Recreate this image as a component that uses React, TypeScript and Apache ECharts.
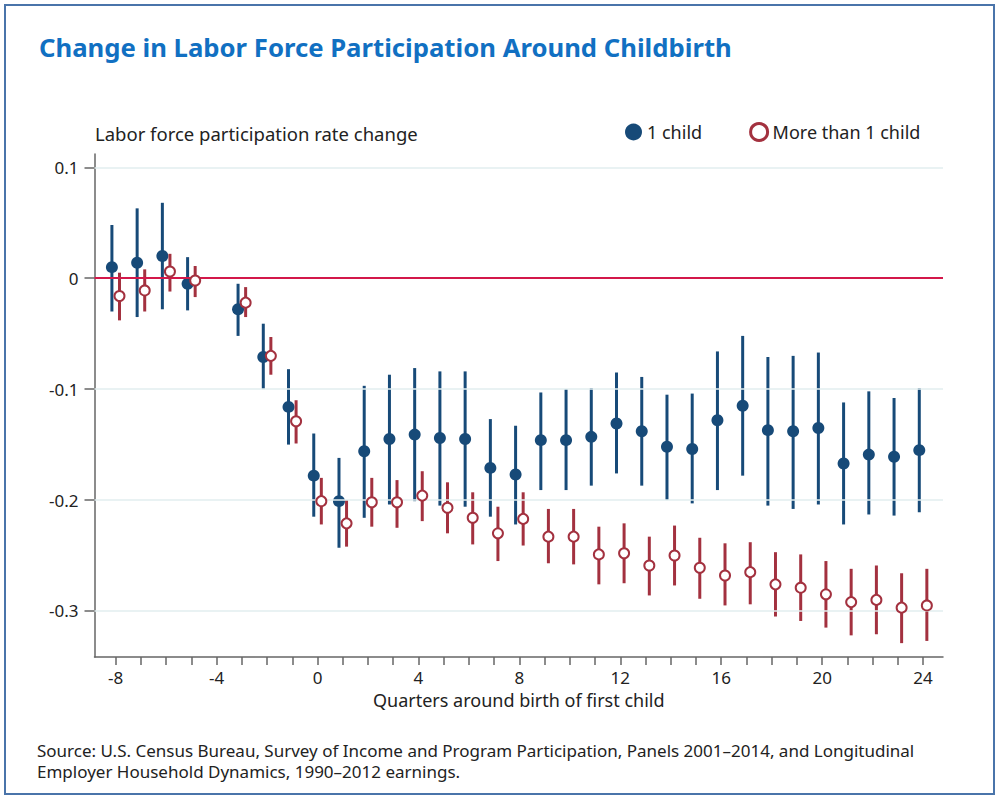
import React, { useEffect, useRef } from "react";
import * as echarts from "echarts";

const quarters = [-8, -7, -6, -5, -3, -2, -1, 0, 1, 2, 3, 4, 5, 6, 7, 8, 9, 10, 11, 12, 13, 14, 15, 16, 17, 18, 19, 20, 21, 22, 23, 24];

const oneChild = [0.010, 0.014, 0.020, -0.005, -0.028, -0.071, -0.116, -0.178, -0.201, -0.156, -0.145, -0.141, -0.144, -0.145, -0.171, -0.177, -0.146, -0.146, -0.143, -0.131, -0.138, -0.152, -0.154, -0.128, -0.115, -0.137, -0.138, -0.135, -0.167, -0.159, -0.161, -0.155];
const oneChildLow = [-0.030, -0.035, -0.028, -0.029, -0.052, -0.100, -0.150, -0.215, -0.243, -0.216, -0.204, -0.201, -0.205, -0.206, -0.215, -0.222, -0.191, -0.191, -0.187, -0.176, -0.187, -0.200, -0.203, -0.191, -0.178, -0.205, -0.208, -0.204, -0.222, -0.213, -0.214, -0.211];
const oneChildHigh = [0.048, 0.063, 0.068, 0.019, -0.005, -0.041, -0.082, -0.140, -0.162, -0.097, -0.087, -0.081, -0.084, -0.084, -0.127, -0.133, -0.103, -0.100, -0.099, -0.085, -0.089, -0.105, -0.104, -0.066, -0.052, -0.071, -0.070, -0.067, -0.112, -0.102, -0.108, -0.099];

const moreChild = [-0.016, -0.011, 0.006, -0.002, -0.022, -0.070, -0.129, -0.201, -0.221, -0.202, -0.202, -0.196, -0.207, -0.216, -0.230, -0.217, -0.233, -0.233, -0.249, -0.248, -0.259, -0.250, -0.261, -0.268, -0.265, -0.276, -0.279, -0.285, -0.292, -0.290, -0.297, -0.295];
const moreChildLow = [-0.038, -0.030, -0.012, -0.017, -0.035, -0.087, -0.149, -0.222, -0.242, -0.224, -0.225, -0.219, -0.230, -0.240, -0.255, -0.241, -0.257, -0.258, -0.276, -0.275, -0.286, -0.277, -0.289, -0.295, -0.294, -0.305, -0.309, -0.315, -0.322, -0.321, -0.329, -0.327];
const moreChildHigh = [0.005, 0.008, 0.022, 0.011, -0.008, -0.053, -0.110, -0.180, -0.200, -0.180, -0.182, -0.174, -0.184, -0.193, -0.206, -0.193, -0.208, -0.208, -0.224, -0.221, -0.233, -0.223, -0.234, -0.239, -0.238, -0.247, -0.249, -0.255, -0.262, -0.259, -0.266, -0.262];

const xTicks = [-8, -7, -6, -5, -4, -3, -2, -1, 0, 1, 2, 3, 4, 5, 6, 7, 8, 9, 10, 11, 12, 13, 14, 15, 16, 17, 18, 19, 20, 21, 22, 23, 24];
const xLabels = [-8, -4, 0, 4, 8, 12, 16, 20, 24];
const yTicks = [-0.3, -0.2, -0.1, 0, 0.1];
const gridValues = [-0.3, -0.2, -0.1, 0.1];

const seriesNames = ["1 child", "More than 1 child"];

const BLUE = "#174a78";
const RED = "#a3313f";
const FONT = "Noto Sans";
const OFFSET = 0.15;

export default function App() {
  const ref = useRef<HTMLDivElement>(null);

  useEffect(() => {
    if (!ref.current) return;
    const chart = echarts.init(ref.current, null, { renderer: "svg" });

    const barItem = (color: string) => (params: any, api: any) => {
      const x = api.value(0);
      const p1 = api.coord([x, api.value(1)]);
      const p2 = api.coord([x, api.value(2)]);
      return {
        type: "line",
        shape: { x1: p1[0], y1: p1[1], x2: p2[0], y2: p2[1] },
        style: { stroke: color, lineWidth: 3 },
      };
    };

    const option: any = {
      animation: false,
      backgroundColor: "#ffffff",
      textStyle: { fontFamily: FONT },
      title: {
        text: "Change in Labor Force Participation Around Childbirth",
        left: 34,
        top: 29,
        textStyle: { fontFamily: FONT, fontWeight: "bold", fontSize: 25.7, color: "#1170c2" },
      },
      legend: {
        left: 620,
        top: 117,
        itemWidth: 17,
        itemHeight: 17,
        itemGap: 47,
        icon: "circle",
        textStyle: { fontFamily: FONT, fontSize: 18, color: "#222" },
        data: [
          { name: seriesNames[0], itemStyle: { color: BLUE } },
          { name: seriesNames[1], itemStyle: { color: "#ffffff", borderColor: RED, borderWidth: 3 } },
        ],
      },
      grid: { left: 94.5, right: 57, top: 154, bottom: 143 },
      xAxis: {
        type: "value",
        min: -8.84,
        max: 24.79,
        name: "Quarters around birth of first child",
        nameLocation: "middle",
        nameGap: 34,
        nameTextStyle: { fontFamily: FONT, fontSize: 18, color: "#222" },
        axisLine: { show: true, onZero: false, lineStyle: { color: "#666", width: 1.5 } },
        axisTick: { show: true, length: 8, lineStyle: { color: "#666", width: 1.5 }, customValues: xTicks },
        axisLabel: { customValues: xLabels, fontSize: 17, color: "#222", fontFamily: FONT, margin: 12 },
        splitLine: { show: false },
      },
      yAxis: {
        type: "value",
        min: -0.3415,
        max: 0.112,
        axisLine: { show: true, onZero: false, lineStyle: { color: "#666", width: 1.5 } },
        axisTick: { show: true, length: 10, lineStyle: { color: "#666", width: 1.5 }, customValues: yTicks },
        axisLabel: {
          customValues: yTicks,
          fontSize: 17,
          color: "#222",
          fontFamily: FONT,
          margin: 16,
          formatter: (v: number) => (Math.abs(v) < 1e-9 ? "0" : String(Math.round(v * 10) / 10)),
        },
        splitLine: { show: false },
      },
      graphic: [
        {
          type: "rect",
          silent: true,
          shape: { x: 5, y: 5, width: 989, height: 789 },
          style: { fill: "none", stroke: "#4a74aa", lineWidth: 2 },
          z: 100,
        },
        {
          type: "text",
          left: 95,
          top: 124,
          style: { text: "Labor force participation rate change", fontFamily: FONT, fontSize: 18.5, fill: "#222" },
        },
        {
          type: "text",
          left: 37,
          top: 740,
          style: {
            text:
              "Source: U.S. Census Bureau, Survey of Income and Program Participation, Panels 2001–2014, and Longitudinal\nEmployer Household Dynamics, 1990–2012 earnings.",
            fontFamily: FONT,
            fontSize: 17,
            lineHeight: 21,
            fill: "#222",
          },
        },
      ],
      series: [
        {
          type: "line",
          name: "reference",
          data: [],
          silent: true,
          z: 1,
          markLine: {
            silent: true,
            symbol: "none",
            label: { show: false },
            animation: false,
            data: [
              ...gridValues.map((v) => ({ yAxis: v, lineStyle: { color: "#e2eeef", width: 1.5, type: "solid" } })),
              { yAxis: 0, lineStyle: { color: "#d3184a", width: 2, type: "solid" } },
            ],
          },
        },
        {
          type: "custom",
          name: "1 child CI",
          z: 2,
          renderItem: barItem(BLUE),
          encode: { x: 0, y: [1, 2] },
          data: quarters.map((q, i) => [q - OFFSET, oneChildLow[i], oneChildHigh[i]]),
        },
        {
          type: "scatter",
          name: seriesNames[0],
          z: 3,
          symbol: "circle",
          symbolSize: 12,
          itemStyle: { color: BLUE, opacity: 1 },
          data: quarters.map((q, i) => [q - OFFSET, oneChild[i]]),
        },
        {
          type: "custom",
          name: "More than 1 child CI",
          z: 4,
          renderItem: barItem(RED),
          encode: { x: 0, y: [1, 2] },
          data: quarters.map((q, i) => [q + OFFSET, moreChildLow[i], moreChildHigh[i]]),
        },
        {
          type: "scatter",
          name: seriesNames[1],
          z: 5,
          symbol: "circle",
          symbolSize: 10,
          itemStyle: { color: "#ffffff", borderColor: RED, borderWidth: 2, opacity: 1 },
          data: quarters.map((q, i) => [q + OFFSET, moreChild[i]]),
        },
      ],
    };

    chart.setOption(option);
    return () => chart.dispose();
  }, []);

  return (
    <div style={{ position: "absolute", left: 0, top: 0, width: 1000, height: 800, background: "#fff" }}>
      <div ref={ref} style={{ width: 1000, height: 800 }} />
    </div>
  );
}
